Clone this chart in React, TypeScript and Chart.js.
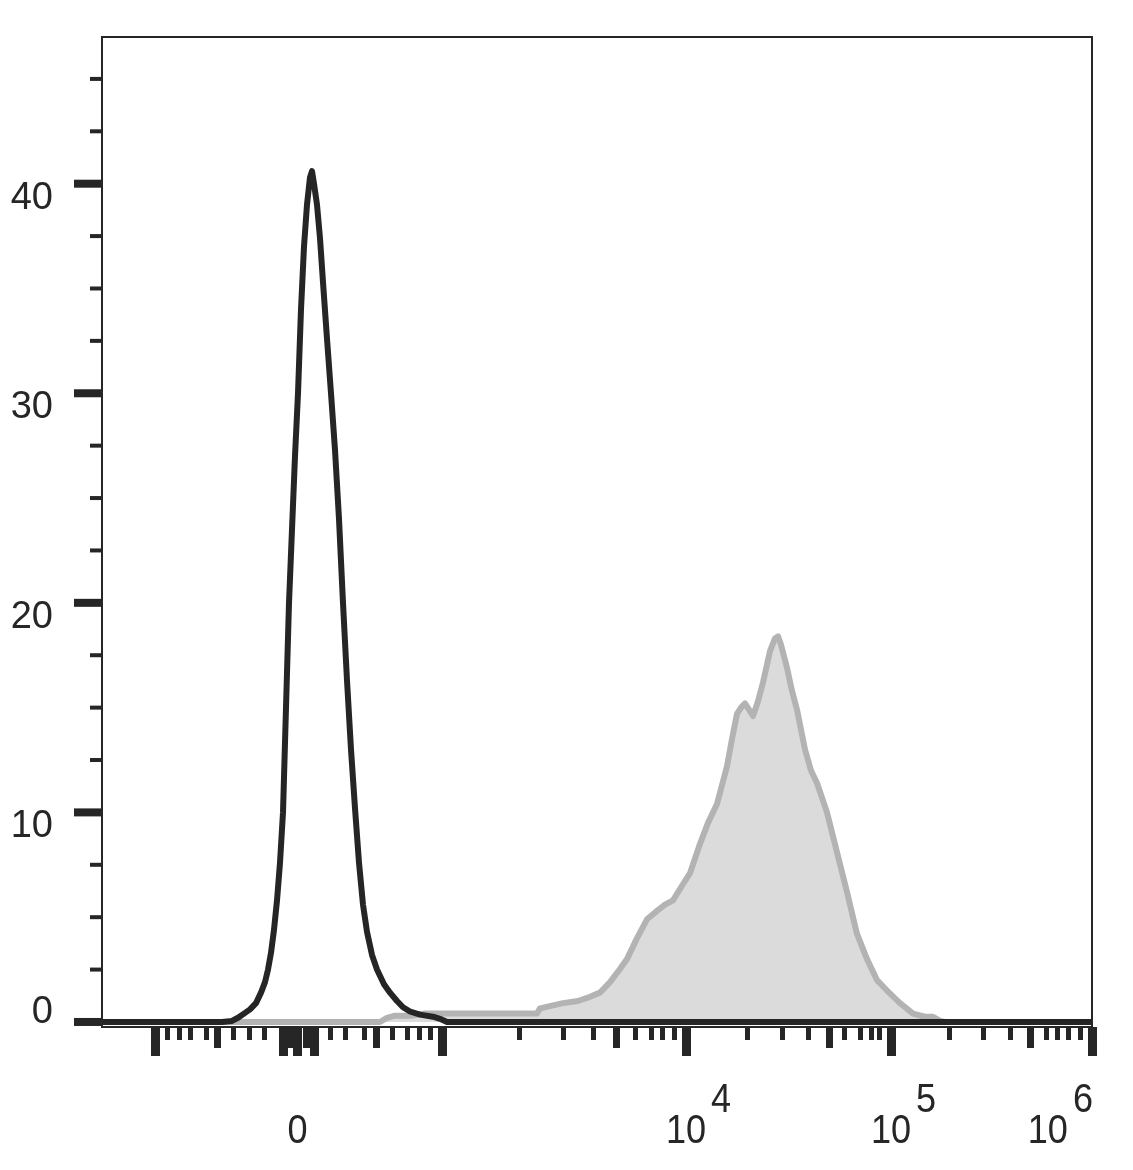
import React, { useEffect, useRef } from "react";
import { Chart, registerables } from "chart.js";

Chart.register(...registerables);

// X axis is in display channels (biexponential display), 0..990 across the plot
const blackX = [0,120,130,136,142,148,154,159,163,166,169,172,175,178,181,184,187,190,193,196,199,202,205,208,210,212,215,218,221,225,229,233,237,241,245,249,253,257,261,265,270,275,282,288,295,301,308,318,331,338,345,990];
const blackY = [0,0,0.05,0.2,0.4,0.6,0.9,1.4,1.9,2.5,3.3,4.4,5.8,7.6,10,15,20,23.5,27,30,34,37,39,40.3,40.6,40,39,37.4,35.3,32.6,30,27.3,24,20,16.3,13,10.2,7.6,5.6,4.3,3.2,2.5,1.8,1.4,1.0,0.7,0.5,0.35,0.25,0.15,0,0];

const grayX = [0,278,285,293,308,323,435,438,461,476,488,498,508,516,525,535,545,555,563,571,580,588,598,606,615,625,630,635,639,643,647,651,656,661,668,673,676,679,685,690,695,703,709,715,725,735,745,755,765,775,785,798,811,823,831,838,843,990];
const grayY = [0,0,0.2,0.3,0.3,0.4,0.4,0.65,0.9,1.0,1.2,1.4,1.9,2.4,3.0,4.0,4.9,5.3,5.6,5.8,6.5,7.1,8.5,9.5,10.4,12.2,13.5,14.7,15.0,15.2,14.9,14.6,15.3,16.2,17.7,18.3,18.4,18.0,16.9,15.8,14.9,13.0,12.0,11.4,10.0,8.1,6.2,4.2,3.0,2.0,1.5,0.9,0.4,0.25,0.25,0.05,0,0];

const xMin = 0;
const xMax = 990;
const yMin = -0.24;
const yMax = 47;

const xTicksLong = [53, 181.5, 195.5, 212.5, 340, 584, 789, 990];
const xTicksMedium = [115, 188, 204, 274, 514, 727, 928];
const xTicksShort = [65,77,88,104,131,147,162,228,243,262,290,305,317,328,417,461,491,533,549,560,572,645,680,706,742,758,769,777,847,881,908,944,955,966,978];

const xLabelPos = [195.5, 584, 789, 990];
const xLabelBase = ["0", "10", "10", "10"];
const xLabelExp = ["", "4", "5", "6"];

const yMajorTicks = [0, 10, 20, 30, 40];
const yMinorTicks = [2.5, 5, 7.5, 12.5, 15, 17.5, 22.5, 25, 27.5, 32.5, 35, 37.5, 42.5, 45];
const yLabels = ["0", "10", "20", "30", "40"];

const INK = "#262626";
const FONT = '"Liberation Sans", Arial, Helvetica, sans-serif';

const axesPlugin = {
  id: "flowAxes",
  afterDraw(chart: any) {
    const { ctx, chartArea } = chart;
    const xs = chart.scales.x;
    const ys = chart.scales.y;
    const { left, right, top, bottom } = chartArea;
    ctx.save();
    // frame
    ctx.strokeStyle = INK;
    ctx.lineWidth = 2;
    ctx.strokeRect(left, top, right - left, bottom - top);
    ctx.fillStyle = INK;
    // y ticks
    yMajorTicks.forEach((v) => {
      const p = ys.getPixelForValue(v);
      ctx.fillRect(left - 28, p - 4, 28, 8);
    });
    yMinorTicks.forEach((v) => {
      const p = ys.getPixelForValue(v);
      ctx.fillRect(left - 12, p - 2, 12, 4);
    });
    // x ticks
    const drawX = (arr: number[], w: number, len: number) => {
      arr.forEach((v) => {
        const p = xs.getPixelForValue(v);
        ctx.fillRect(Math.round(p - w / 2), bottom, w, len);
      });
    };
    drawX(xTicksShort, 5, 13);
    drawX(xTicksMedium, 7, 21);
    drawX(xTicksLong, 9, 29);
    // y labels (the bottom one sits above its tick, as in the source plot)
    ctx.font = `38px ${FONT}`;
    ctx.textAlign = "right";
    ctx.textBaseline = "alphabetic";
    yMajorTicks.forEach((v, i) => {
      const p = ys.getPixelForValue(v);
      const off = i === 0 ? 1 : 25;
      ctx.fillText(yLabels[i], 53, p + off);
    });
    // x labels
    const base = bottom + 116;
    xLabelPos.forEach((v, i) => {
      const p = xs.getPixelForValue(v);
      ctx.save();
      ctx.font = `41px ${FONT}`;
      const sx = 0.88;
      const bw = ctx.measureText(xLabelBase[i]).width * sx;
      const ew = xLabelExp[i] ? ctx.measureText(xLabelExp[i]).width * sx : 0;
      let x0 = p - bw / 2;
      const gap = xLabelExp[i] ? 5 : 0;
      const maxRight = right + 1;
      if (x0 + bw + gap + ew > maxRight) x0 = maxRight - (bw + gap + ew);
      ctx.textAlign = "left";
      ctx.translate(x0, base);
      ctx.scale(sx, 1);
      ctx.fillText(xLabelBase[i], 0, 0);
      if (xLabelExp[i]) {
        ctx.fillText(xLabelExp[i], (bw + gap) / sx, -31);
      }
      ctx.restore();
    });
    ctx.restore();
  },
};

export default function App() {
  const ref = useRef<HTMLCanvasElement | null>(null);
  useEffect(() => {
    if (!ref.current) return;
    const chart = new Chart(ref.current, {
      type: "line",
      data: {
        datasets: [
          {
            label: "control",
            data: blackX.map((x, i) => ({ x, y: blackY[i] })),
            borderColor: "#252525",
            borderWidth: 6,
            pointRadius: 0,
            tension: 0,
            fill: false,
            borderJoinStyle: "round",
          },
          {
            label: "stained",
            data: grayX.map((x, i) => ({ x, y: grayY[i] })),
            borderColor: "#b3b3b3",
            backgroundColor: "#dcdbdb",
            borderWidth: 6,
            pointRadius: 0,
            tension: 0,
            fill: "origin",
            borderJoinStyle: "round",
          },
        ],
      },
      options: {
        responsive: false,
        animation: false,
        devicePixelRatio: 1,
        layout: { padding: { left: 102, right: 41, top: 37, bottom: 143 } },
        plugins: { legend: { display: false }, tooltip: { enabled: false } },
        scales: {
          x: { type: "linear", min: xMin, max: xMax, display: false },
          y: { type: "linear", min: yMin, max: yMax, display: false },
        },
      },
      plugins: [axesPlugin],
    } as any);
    return () => chart.destroy();
  }, []);
  return (
    <div style={{ position: "absolute", left: 0, top: 0, width: 1133, height: 1170, background: "#fff" }}>
      <canvas ref={ref} width={1133} height={1170} style={{ width: 1133, height: 1170, display: "block" }} />
    </div>
  );
}
